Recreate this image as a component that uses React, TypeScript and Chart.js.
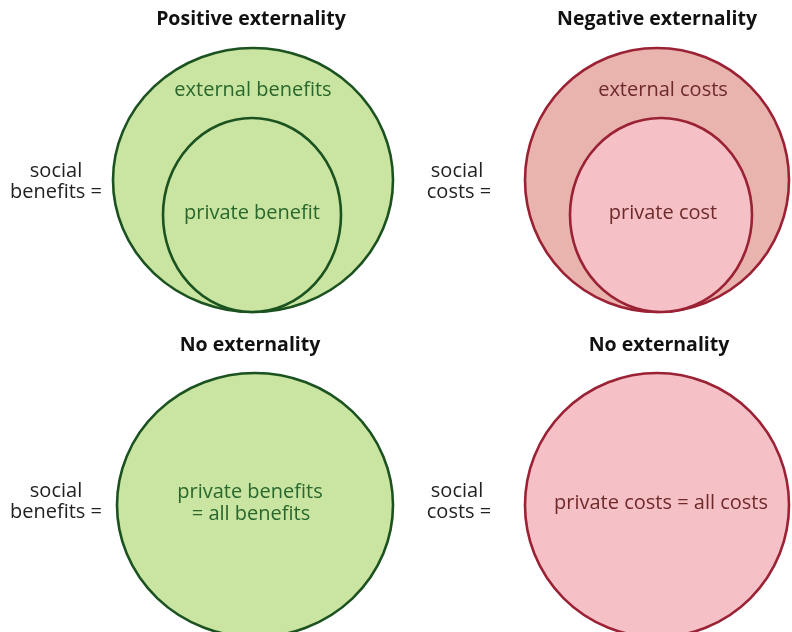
import { useEffect, useRef } from "react";
import { Chart, registerables } from "chart.js";

Chart.register(...registerables);

// ---- panel titles ----
const panelTitles = ["Positive externality", "Negative externality", "No externality", "No externality"];
const titleX = [251, 657, 250, 659];
const titleY = [19, 19, 345, 345];

// ---- outer circles (social benefits / social costs) ----
const outerCX = [253, 657, 255, 657];
const outerCY = [180, 180, 505, 505];
const outerRX = [140, 132, 138, 132];
const outerRY = [132, 132, 132, 132];
const outerFill = ["#c9e5a1", "#e9b3ae", "#c9e5a1", "#f6c1c6"];
const outerStroke = ["#1b5220", "#9a2234", "#1b5220", "#9a2234"];

// ---- inner circles (private benefit / private cost) ----
const innerCX = [252, 661];
const innerCY = [215, 215];
const innerRX = [89, 91];
const innerRY = [97, 97];
const innerFill = ["#c9e5a1", "#f6c1c6"];
const innerStroke = ["#1b5220", "#9a2234"];

// ---- labels inside circles ----
const innerLabels = ["external benefits", "private benefit", "external costs", "private cost", "private benefits", "= all benefits", "private costs = all costs"];
const innerLabelX = [253, 252, 663, 663, 250, 251, 661];
const innerLabelY = [90, 213, 90, 213, 492, 514, 503];
const innerLabelColor = ["#2a672c", "#2a672c", "#6e2a2a", "#6e2a2a", "#2a672c", "#2a672c", "#6e2a2a"];

// ---- side labels ----
const sideLabels = ["social", "benefits =", "social", "costs =", "social", "benefits =", "social", "costs ="];
const sideLabelX = [56, 56, 457, 459, 56, 56, 457, 459];
const sideLabelY = [171, 192, 171, 192, 491, 512, 491, 512];

const FONT = "'Open Sans', 'Noto Sans', sans-serif";

const ellipsePlugin = {
  id: "ellipses",
  afterDatasetsDraw(chart: any) {
    const ctx = chart.ctx as CanvasRenderingContext2D;
    const xs = chart.scales.x;
    const ys = chart.scales.y;
    chart.data.datasets.forEach((ds: any, di: number) => {
      const meta = chart.getDatasetMeta(di);
      meta.data.forEach((el: any, i: number) => {
        const raw = ds.data[i];
        const rx = Math.abs(xs.getPixelForValue(raw.x + raw.rx) - el.x);
        const ry = Math.abs(ys.getPixelForValue(raw.y + raw.ry) - el.y);
        ctx.save();
        ctx.beginPath();
        ctx.ellipse(el.x, el.y, rx, ry, 0, 0, Math.PI * 2);
        ctx.fillStyle = ds.fills[i];
        ctx.fill();
        ctx.lineWidth = 2.6;
        ctx.strokeStyle = ds.strokes[i];
        ctx.stroke();
        ctx.restore();
      });
    });
    const text = (s: string, x: number, y: number, font: string, color: string) => {
      ctx.save();
      ctx.font = font;
      ctx.fillStyle = color;
      ctx.textAlign = "center";
      ctx.textBaseline = "middle";
      ctx.fillText(s, xs.getPixelForValue(x), ys.getPixelForValue(y));
      ctx.restore();
    };
    panelTitles.forEach((t, i) => text(t, titleX[i], titleY[i], `bold 19.5px ${FONT}`, "#111111"));
    innerLabels.forEach((t, i) => text(t, innerLabelX[i], innerLabelY[i], `20px ${FONT}`, innerLabelColor[i]));
    sideLabels.forEach((t, i) => text(t, sideLabelX[i], sideLabelY[i], `20px ${FONT}`, "#222222"));
  },
};

export default function App() {
  const ref = useRef<HTMLCanvasElement | null>(null);
  useEffect(() => {
    if (!ref.current) return;
    const chart = new Chart(ref.current, {
      type: "scatter",
      data: {
        datasets: [
          {
            label: "social",
            data: outerCX.map((x, i) => ({ x, y: outerCY[i], rx: outerRX[i], ry: outerRY[i] })),
            fills: outerFill,
            strokes: outerStroke,
            pointRadius: 0,
          } as any,
          {
            label: "private",
            data: innerCX.map((x, i) => ({ x, y: innerCY[i], rx: innerRX[i], ry: innerRY[i] })),
            fills: innerFill,
            strokes: innerStroke,
            pointRadius: 0,
          } as any,
        ],
      },
      options: {
        animation: false,
        responsive: true,
        maintainAspectRatio: false,
        layout: { padding: 0 },
        events: [],
        plugins: { legend: { display: false }, tooltip: { enabled: false } },
        scales: {
          x: { type: "linear", min: 0, max: 792, display: false },
          y: { type: "linear", min: 0, max: 632, reverse: true, display: false },
        },
      },
      plugins: [ellipsePlugin],
    });
    return () => chart.destroy();
  }, []);
  return (
    <div style={{ position: "absolute", left: 0, top: 0, width: 792, height: 632, background: "#ffffff" }}>
      <canvas ref={ref} />
    </div>
  );
}
